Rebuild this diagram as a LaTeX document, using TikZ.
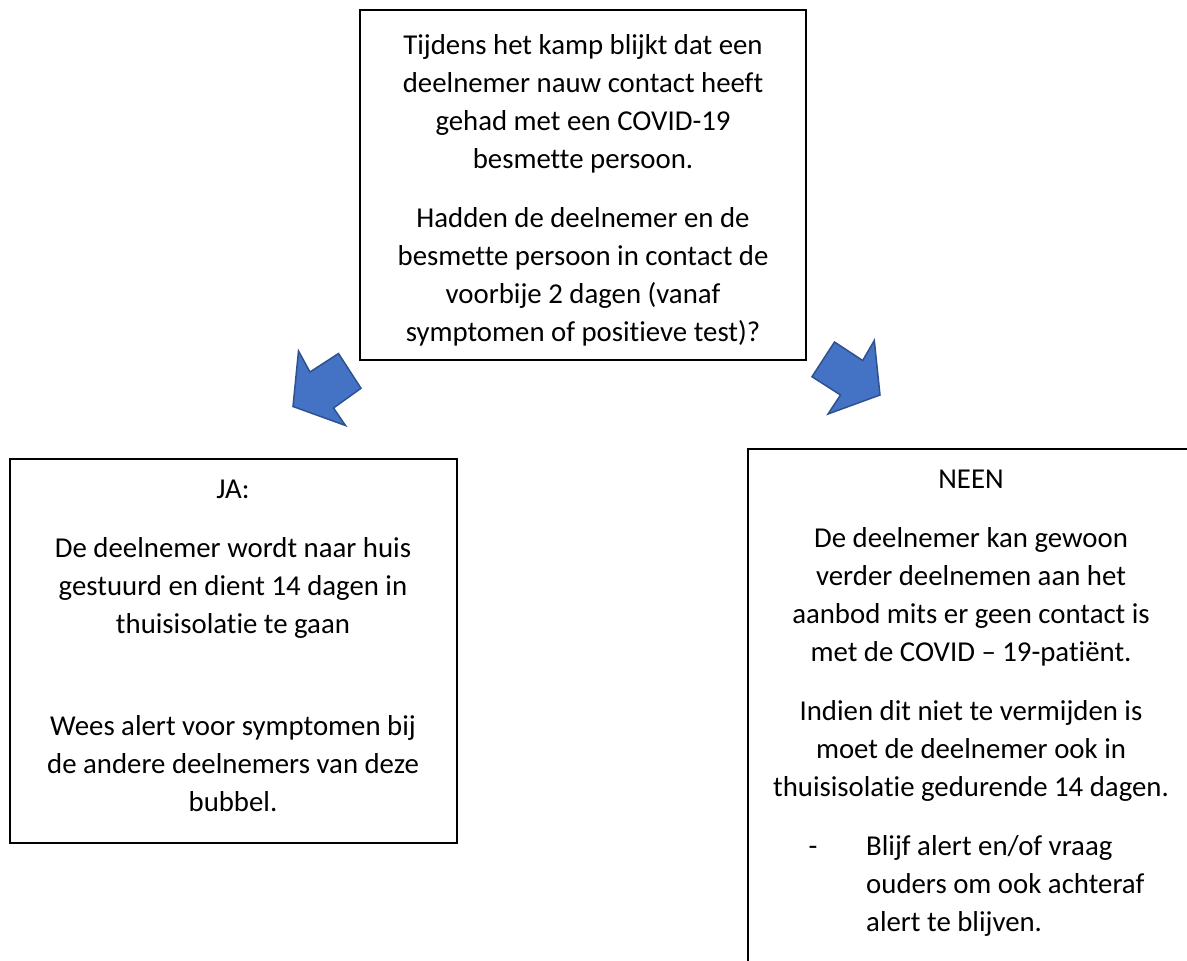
\documentclass[tikz,border=0pt]{standalone}
\usepackage{fontspec}
\setmainfont{Carlito}[Ligatures=NoCommon]
\definecolor{arrowblue}{HTML}{4472C4}
\definecolor{arrowedge}{HTML}{2F528F}
\begin{document}
\begin{tikzpicture}[x=1pt,y=-1pt,
  box/.style={draw=black, line width=2.5pt, inner sep=0pt, rectangle},
  txt/.style={inner sep=0pt, align=center, font=\fontsize{28.8}{38}\selectfont, anchor=base},
  listtxt/.style={inner sep=0pt, align=left, font=\fontsize{28.8}{38}\selectfont, anchor=base west},
  blockarrow/.style={fill=arrowblue, draw=arrowedge, line width=1.5pt, line join=miter}]
\useasboundingbox (0,0) rectangle (1187,961);
\begin{scope}
\clip (0,0) rectangle (1187,961);
% boxes
\node[box, minimum width=446pt, minimum height=350pt] (qbox) at (583,185) {};
\node[box, minimum width=447pt, minimum height=384pt] (jabox) at (233.5,651) {};
\node[box, minimum width=447pt, minimum height=560pt] (neenbox) at (971.5,729) {};
\end{scope}
% question text (anchor base = baseline of last line)
\node[txt] (q1) at (583,168) {Tijdens het kamp blijkt dat een\\deelnemer nauw contact heeft\\gehad met een COVID-19\\besmette persoon.};
\node[txt] (q2) at (583,341) {Hadden de deelnemer en de\\besmette persoon in contact de\\voorbije 2 dagen (vanaf\\symptomen of positieve test)?};
% JA text
\node[txt] (ja0) at (233,498) {JA:};
\node[txt] (ja1) at (233,633) {De deelnemer wordt naar huis\\gestuurd en dient 14 dagen in\\thuisisolatie te gaan};
\node[txt] (ja2) at (233,811) {Wees alert voor symptomen bij\\de andere deelnemers van deze\\bubbel.};
% NEEN text
\node[txt] (ne0) at (971,488) {NEEN};
\node[txt] (ne1) at (971,661) {De deelnemer kan gewoon\\verder deelnemen aan het\\aanbod mits er geen contact is\\met de COVID – 19-patiënt.};
\node[txt] (ne2) at (971,796) {Indien dit niet te vermijden is\\moet de deelnemer ook in\\thuisisolatie gedurende 14 dagen.};
\node[txt] (dash) at (813,855) {-};
\node[listtxt] (ne3) at (866,931) {Blijf alert en/of vraag\\ouders om ook achteraf\\alert te blijven.};
% block arrows
\draw[blockarrow] (298.5,351) -- (310,372) -- (338.5,353.5) -- (361,388.3) -- (333.5,408) -- (345.5,425.5) -- (293,406.5) -- cycle;
\draw[blockarrow] (834.5,342) -- (862.7,360.5) -- (874.3,340.5) -- (880,395) -- (828,414) -- (840.5,395) -- (812,376.7) -- cycle;
\end{tikzpicture}
\end{document}
